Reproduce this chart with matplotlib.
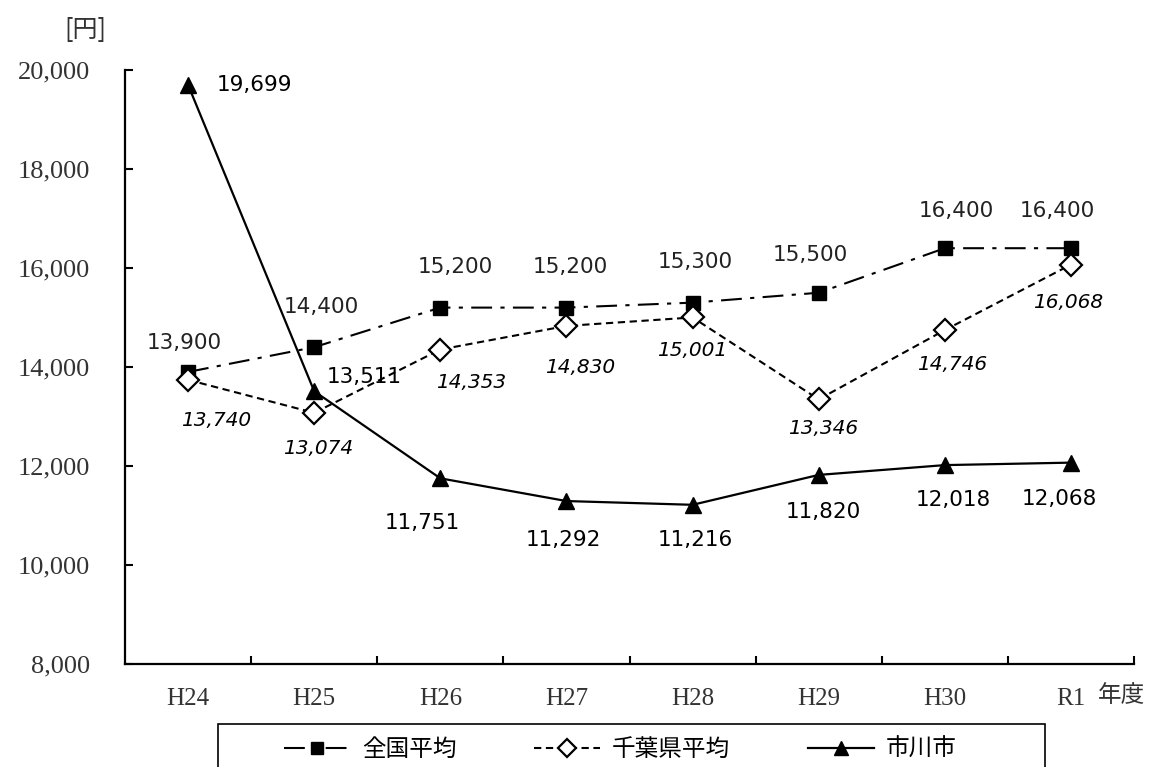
import matplotlib.pyplot as plt
from matplotlib.patches import Rectangle
from matplotlib.ticker import FixedLocator, FuncFormatter

plt.rcParams['font.family'] = ['Noto Sans CJK JP', 'DejaVu Sans']

years = ['H24', 'H25', 'H26', 'H27', 'H28', 'H29', 'H30', 'R1']
national = [13900, 14400, 15200, 15200, 15300, 15500, 16400, 16400]
chiba = [13740, 13074, 14353, 14830, 15001, 13346, 14746, 16068]
ichikawa = [19699, 13511, 11751, 11292, 11216, 11820, 12018, 12068]

# label offsets in points (dx, dy)
nat_off = [(-3, 21), (5, 29), (11, 29), (3, 29), (2, 29), (-6, 27), (8, 27), (-10, 27)]
chiba_off = [(20, -29), (3, -26), (22, -24), (10, -30), (0, -24), (3, -21), (5, -25), (-2, -27)]
ichi_off = [(48, 0), (36, 10), (-13, -32), (-2, -28), (2, -25), (3, -27), (6, -25), (-8, -26)]

fig = plt.figure(figsize=(11.55, 7.67), dpi=100)
ax = fig.add_axes([125/1155, 1-664/767, 1009/1155, 594/767])

x = list(range(len(years)))
ln1, = ax.plot(x, national, color='black', lw=1.5, ls=(0, (10, 4, 2, 4)),
               marker='s', ms=9.5, mfc='black', mec='black')
ln2, = ax.plot(x, chiba, color='black', lw=1.5, ls=(0, (3.5, 2.2)),
               marker='D', ms=11, mfc='white', mec='black', mew=1.6)
ln3, = ax.plot(x, ichikawa, color='black', lw=1.6, ls='-',
               marker='^', ms=12, mfc='black', mec='black')

for i, v in enumerate(national):
    ax.annotate(f'{v:,}', (i, v), xytext=nat_off[i], textcoords='offset points',
                ha='center', va='center', fontsize=15.5, family='DejaVu Sans', color='#222222')
for i, v in enumerate(chiba):
    ax.annotate(f'{v:,}', (i, v), xytext=chiba_off[i], textcoords='offset points',
                ha='center', va='center', fontsize=14.5, family='DejaVu Sans', style='italic')
for i, v in enumerate(ichikawa):
    ax.annotate(f'{v:,}', (i, v), xytext=ichi_off[i], textcoords='offset points',
                ha='center', va='center', fontsize=15.5, family='DejaVu Sans')

ax.set_xlim(-0.5, len(years) - 0.5)
ax.set_ylim(8000, 20000)
ax.set_yticks(range(8000, 20001, 2000))
ax.yaxis.set_major_formatter(FuncFormatter(lambda v, p: f'{int(v):,}'))
ax.set_xticks(x)
ax.set_xticklabels(years)
ax.xaxis.set_minor_locator(FixedLocator([i + 0.5 for i in range(len(years))]))
ax.tick_params(axis='x', which='major', length=0, pad=17)
ax.tick_params(axis='x', which='minor', direction='in', length=6, width=1.5)
ax.tick_params(axis='y', direction='in', length=6, width=1.5, pad=25)
for lab in ax.get_xticklabels():
    lab.set_family('Liberation Serif')
    lab.set_fontsize(18)
    lab.set_color('#333333')
for lab in ax.get_yticklabels():
    lab.set_family('Liberation Serif')
    lab.set_fontsize(19)
    lab.set_color('#333333')
ax.spines['top'].set_visible(False)
ax.spines['right'].set_visible(False)
ax.spines['left'].set_linewidth(1.6)
ax.spines['bottom'].set_linewidth(1.6)

fig.text(85/1155, 1-30/767, '[円]', fontsize=18, ha='center', va='center', color='#333333')
fig.text(1098/1155, 1-695/767, '年度', fontsize=17, ha='left', va='center', color='#333333')

# legend frame runs past the bottom edge as in the reference
fig.add_artist(Rectangle((218/1155, -0.05), 827/1155, 0.05 + 1-724/767,
                         transform=fig.transFigure, fill=False, ec='black', lw=1.2))
leg = fig.legend([ln1, ln2, ln3], ['全国平均', '千葉県平均', '市川市'],
                 loc='upper left', bbox_to_anchor=(272/1155, 1-726/767),
                 ncol=3, fontsize=17, frameon=False, columnspacing=3.3,
                 handlelength=2.8, handletextpad=0.5, borderpad=0, markerscale=0.85)

fig.savefig('out.png', dpi=100)
